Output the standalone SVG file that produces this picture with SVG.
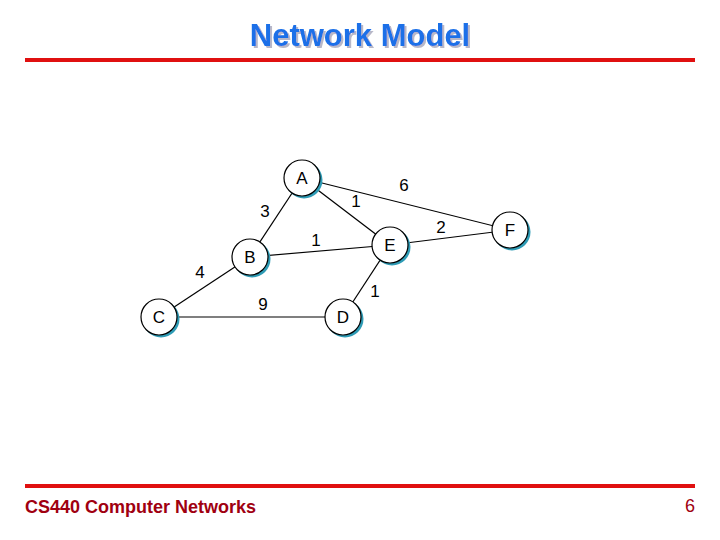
<svg xmlns="http://www.w3.org/2000/svg" width="720" height="540" viewBox="0 0 720 540">
<defs>
<filter id="tsh" x="-10%" y="-20%" width="130%" height="150%">
<feOffset in="SourceAlpha" dx="2" dy="2" result="o"/>
<feFlood flood-color="#b8b8c8"/>
<feComposite in2="o" operator="in" result="s"/>
<feMerge><feMergeNode in="s"/><feMergeNode in="SourceGraphic"/></feMerge>
</filter>
</defs>
<style>
.node circle.sh{fill:#2e9bb5}
.node circle.c{fill:#fff;stroke:#000;stroke-width:1.2}
.node text,.lbl{font-family:"Liberation Sans",Arial,sans-serif;font-size:17px;fill:#000;text-anchor:middle}
#edges line{stroke:#000;stroke-width:1.2}
</style>
<rect width="720" height="540" fill="#fff"/>
<text x="360" y="46" font-family="Liberation Sans,Arial,sans-serif" font-size="31" font-weight="bold" fill="#1a6fe8" text-anchor="middle" filter="url(#tsh)">Network Model</text>
<line x1="25" y1="60" x2="695" y2="60" stroke="#e01010" stroke-width="4"/>
<line x1="25" y1="486" x2="695" y2="486" stroke="#e01010" stroke-width="4"/>
<text x="25" y="513" font-family="Liberation Sans,Arial,sans-serif" font-size="18" font-weight="bold" fill="#a00010">CS440 Computer Networks</text>
<text x="695" y="512" font-family="Liberation Sans,Arial,sans-serif" font-size="18" fill="#a00010" text-anchor="end">6</text>
<g id="edges">
<line x1="302" y1="178" x2="510" y2="230"/>
<line x1="302" y1="178" x2="390" y2="245"/>
<line x1="302" y1="178" x2="250" y2="257"/>
<line x1="250" y1="257" x2="390" y2="245"/>
<line x1="250" y1="257" x2="159" y2="317"/>
<line x1="159" y1="317" x2="343" y2="317"/>
<line x1="343" y1="317" x2="390" y2="245"/>
<line x1="390" y1="245" x2="510" y2="230"/>
</g>
<g id="labels">
<text class="lbl" x="404" y="191">6</text>
<text class="lbl" x="356" y="207">1</text>
<text class="lbl" x="265" y="217">3</text>
<text class="lbl" x="441" y="233">2</text>
<text class="lbl" x="316" y="246">1</text>
<text class="lbl" x="200" y="278">4</text>
<text class="lbl" x="263" y="310">9</text>
<text class="lbl" x="375" y="297">1</text>
</g>
<g id="node-A" class="node"><circle class="sh" cx="304" cy="180" r="18.5"/><circle class="c" cx="302" cy="178" r="18"/><text x="302" y="184">A</text></g>
<g id="node-B" class="node"><circle class="sh" cx="252" cy="259" r="18.5"/><circle class="c" cx="250" cy="257" r="18"/><text x="250" y="263">B</text></g>
<g id="node-C" class="node"><circle class="sh" cx="161" cy="319" r="18.5"/><circle class="c" cx="159" cy="317" r="18"/><text x="159" y="323">C</text></g>
<g id="node-D" class="node"><circle class="sh" cx="345" cy="319" r="18.5"/><circle class="c" cx="343" cy="317" r="18"/><text x="343" y="323">D</text></g>
<g id="node-E" class="node"><circle class="sh" cx="392" cy="247" r="18.5"/><circle class="c" cx="390" cy="245" r="18"/><text x="390" y="251">E</text></g>
<g id="node-F" class="node"><circle class="sh" cx="512" cy="232" r="18.5"/><circle class="c" cx="510" cy="230" r="18"/><text x="510" y="236">F</text></g>
</svg>
